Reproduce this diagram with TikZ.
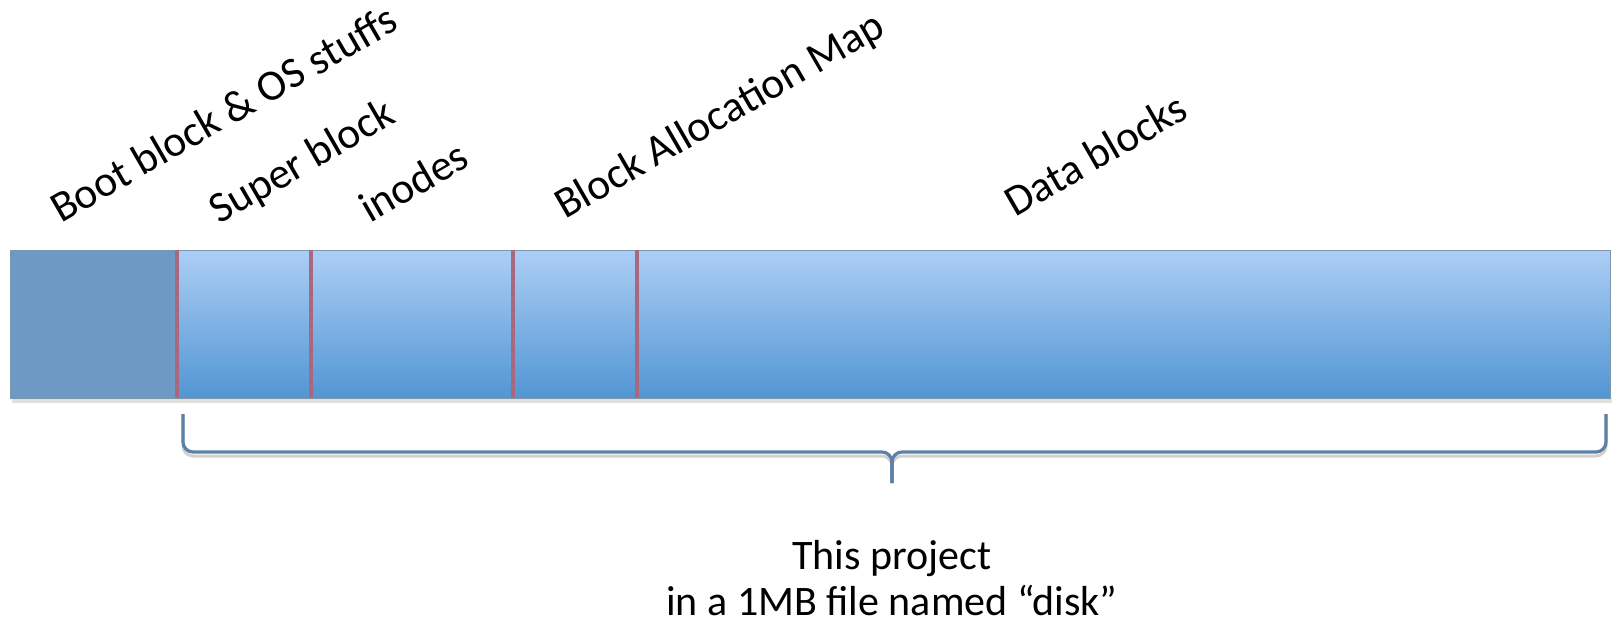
\documentclass[tikz,border=0pt]{standalone}
\usepackage{fontspec}
\setmainfont{Carlito}
\usetikzlibrary{calc}
\definecolor{bootblue}{RGB}{108,154,196}
\definecolor{bartop}{RGB}{172,206,245}
\definecolor{barbot}{RGB}{82,150,212}
\definecolor{divred}{RGB}{168,104,128}
\definecolor{braceblue}{RGB}{92,128,166}
\definecolor{edgegray}{RGB}{125,150,170}

\begin{document}
\begin{tikzpicture}[x=1pt,y=-1pt,
    lbl/.style={font=\fontsize{43.5}{46}\selectfont,rotate=30,anchor=base west,inner sep=0pt},
    note/.style={font=\fontsize{42}{46}\selectfont,anchor=base,inner sep=0pt}]
    \useasboundingbox (0,0) rectangle (1612,626);
    % the disk strip
    \fill[black!25,opacity=0.5] (12,398) rectangle (1612,403);
    \fill[bootblue] (10,250) rectangle (177,398);
    \shade[top color=bartop,bottom color=barbot] (177,250) rectangle (1610,398);
    \draw[edgegray,line width=1pt] (10,250) rectangle (1610,398);
    \foreach \x in {177,311,513,637}
        \draw[divred,line width=4.5pt] (\x,250) -- (\x,398);
    % labels
    \node[lbl] (boot) at (61,224) {Boot block \& OS stuffs};
    \node[lbl] (super) at (219,225) {Super block};
    \node[lbl] (inodes) at (370,224) {inodes};
    \node[lbl] (bmap) at (565,220) {Block Allocation Map};
    \node[lbl] (data) at (1015,218) {Data blocks};
    % brace
    \coordinate (bl) at (183,414);
    \coordinate (br) at (1606,414);
    \coordinate (tip) at (892,483);
    \draw[black!30,opacity=0.6,line width=3pt,rounded corners=10pt,shift={(2,4)}] (bl) |- (tip |- 0,452) -- (tip);
    \draw[black!30,opacity=0.6,line width=3pt,rounded corners=10pt,shift={(2,4)}] (br) |- (tip |- 0,452) -- (tip);
    \draw[braceblue,line width=3.2pt,rounded corners=10pt] (bl) |- (tip |- 0,452) -- (tip);
    \draw[braceblue,line width=3.2pt,rounded corners=10pt] (br) |- (tip |- 0,452) -- (tip);
    \node[note] (proj) at (892,569) {This project};
    \node[note] (file) at (892,615) {in a 1MB file named “disk”};
\end{tikzpicture}
\end{document}
